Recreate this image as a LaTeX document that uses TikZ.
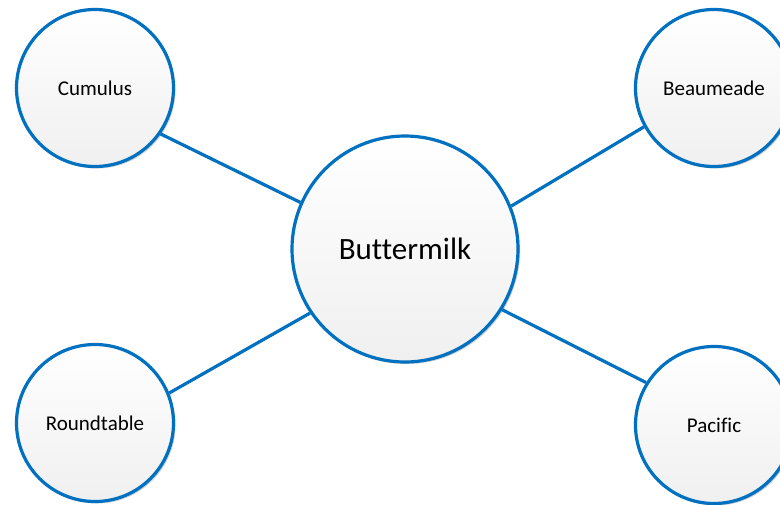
\documentclass[tikz,border=0pt]{standalone}
\usepackage{fontspec}
\setmainfont{Carlito}[Ligatures=NoCommon]
\usetikzlibrary{shadows}
\definecolor{bblue}{RGB}{0,112,192}
\tikzset{
  bubble/.style={circle, draw=bblue, line width=3.2pt, inner sep=0pt,
    top color=white, bottom color=black!6,
    drop shadow={shadow xshift=2pt, shadow yshift=-2pt, fill=black, opacity=0.18}},
  small/.style={bubble, minimum size=157pt, font=\fontsize{21}{25}\selectfont},
  big/.style={bubble, minimum size=226pt, font=\fontsize{31}{36}\selectfont},
  link/.style={draw=bblue, line width=3.2pt}
}
\begin{document}
\begin{tikzpicture}[x=1pt,y=-1pt]
\useasboundingbox (0,0) rectangle (780,504);
\fill[white] (0,0) rectangle (780,504);
\node[big]   (mid)  at (405,249) {Buttermilk};
\node[small] (cum)  at (95,88)   {Cumulus};
\node[small] (beau) at (714,88)  {Beaumeade};
\node[small] (rnd)  at (95,423)  {Roundtable};
\node[small] (pac)  at (714,425) {Pacific};
\draw[link] (cum.-35.6) -- (mid.156.8);
\draw[link] (beau.209.5) -- (mid.22.3);
\draw[link] (rnd.22.5) -- (mid.214);
\draw[link] (pac.148) -- (mid.-32.3);
\end{tikzpicture}
\end{document}
